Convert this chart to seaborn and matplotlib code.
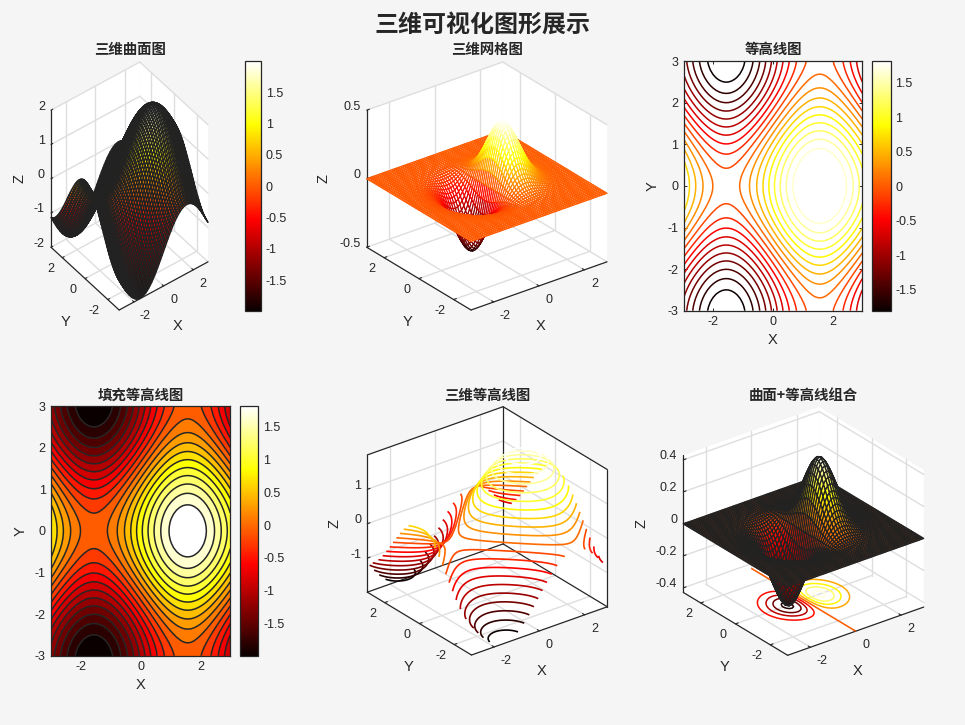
import numpy as np
import matplotlib
matplotlib.use("Agg")
import matplotlib.pyplot as plt
import seaborn as sns
from matplotlib.cm import ScalarMappable
from matplotlib.colors import Normalize
from matplotlib.ticker import FuncFormatter
from mpl_toolkits.mplot3d import proj3d
from mpl_toolkits.mplot3d.art3d import Poly3DCollection

# Sampling grid and the two analytic surfaces
axis_values = np.linspace(-3, 3, 61)
X, Y = np.meshgrid(axis_values, axis_values)
Z_waves = np.sin(X) + np.cos(Y)
Z_peaks = X * np.exp(-X ** 2 - Y ** 2)

# Contour levels
wave_levels = np.linspace(Z_waves.min(), Z_waves.max(), 22)[1:-1]
peak_levels = [-0.4, -0.3, -0.2, -0.1, 0, 0.1, 0.2, 0.3, 0.4]

# Tick positions
xy_ticks = [-2, 0, 2]
y2d_ticks = [-3, -2, -1, 0, 1, 2, 3]
cbar_ticks = [-1.5, -1, -0.5, 0, 0.5, 1, 1.5]
waves_zticks = [-2, -1, 0, 1, 2]
mesh_zticks = [-0.5, 0, 0.5]
contour3_zticks = [-1, 0, 1]
combo_zticks = [-0.4, -0.2, 0, 0.2, 0.4]

# Titles
main_title = "三维可视化图形展示"
panel_titles = ["三维曲面图", "三维网格图", "等高线图", "填充等高线图", "三维等高线图", "曲面+等高线组合"]

W, H = 965, 725
INK = "#262626"
GRID = "#dedede"
BG = "#f5f5f5"

sns.set_theme(style="white", rc={"axes.unicode_minus": False, "figure.facecolor": BG,
                                 "contour.negative_linestyle": "solid"})
plt.rcParams["font.family"] = ["Liberation Sans", "Noto Sans CJK SC", "DejaVu Sans"]
hot = sns.color_palette("hot", as_cmap=True)

TICK_PT = 9
LABEL_PT = 10.5
CJK = ["Noto Sans CJK SC", "DejaVu Sans"]
plain_number = FuncFormatter(lambda v, _: f"{v:g}")

fig = plt.figure(figsize=(W / 100, H / 100), dpi=100, facecolor=BG)


def fx(px):
    return px / W


def fy(py):
    return 1 - py / H


def fig_text(px, py, s, **kw):
    kw.setdefault("color", INK)
    kw.setdefault("ha", "center")
    kw.setdefault("va", "center")
    fig.text(fx(px), fy(py), s, **kw)


def add_title(px, py, s):
    fig_text(px, py, s, family=CJK, weight="bold", fontsize=10.4)


def add_colorbar(left, right, top, bottom, norm):
    cax = fig.add_axes([fx(left), fy(bottom), fx(right - left), (bottom - top) / H])
    cbar = fig.colorbar(ScalarMappable(norm=norm, cmap=hot), cax=cax,
                        ticks=cbar_ticks, format=plain_number)
    cbar.ax.tick_params(direction="in", length=2, width=0.7, color=INK,
                        labelcolor=INK, labelsize=TICK_PT, pad=3.5)
    cbar.outline.set_edgecolor(INK)
    cbar.outline.set_linewidth(0.9)
    return cbar


def axes_2d(left, right, top, bottom):
    ax = fig.add_axes([fx(left), fy(bottom), fx(right - left), (bottom - top) / H])
    ax.set_xlim(-3, 3)
    ax.set_ylim(-3, 3)
    ax.set_xticks(xy_ticks)
    ax.set_yticks(y2d_ticks)
    ax.xaxis.set_major_formatter(plain_number)
    ax.yaxis.set_major_formatter(plain_number)
    ax.tick_params(direction="in", length=2, width=0.7, color=INK, labelcolor=INK,
                   labelsize=TICK_PT, top=True, right=True, bottom=True, left=True, pad=4)
    for spine in ax.spines.values():
        spine.set_edgecolor(INK)
        spine.set_linewidth(0.9)
        spine.set_visible(True)
    fig_text((left + right) / 2, bottom + 29, "X", fontsize=LABEL_PT)
    fig_text(left - 31, (top + bottom) / 2, "Y", fontsize=LABEL_PT, rotation=90)
    return ax


def axes_3d(left, right, top, bottom, zlim, zticks, z_pad, x_dx=2, y_dx=-11, boxed=False):
    ax = fig.add_axes([0.1, 0.1, 0.5, 0.5], projection="3d", computed_zorder=False,
                      proj_type="ortho")
    ax.view_init(elev=30, azim=-127.5)
    ax.set_box_aspect((1, 1, 1), zoom=0.9)
    ax.set_xlim3d(-3, 3)
    ax.set_ylim3d(-3, 3)
    ax.set_zlim3d(*zlim)
    ax.set_axis_off()
    ax.patch.set_visible(False)
    # The plot box stretches to its slot rather than keeping a square frame
    ax.apply_aspect = lambda position=None: None

    z0, z1 = zlim
    M = ax.get_proj()

    def project(x, y, z):
        u, v, _ = proj3d.proj_transform(x, y, z, M)
        return u, v

    corners = [project(x, y, z) for x in (-3, 3) for y in (-3, 3) for z in zlim]
    frac = ax.transLimits.transform(corners)
    wpx = (right - left) / (frac[:, 0].max() - frac[:, 0].min())
    hpx = (bottom - top) / (frac[:, 1].max() - frac[:, 1].min())
    x0 = left - frac[:, 0].min() * wpx
    y0 = bottom + frac[:, 1].min() * hpx
    ax.set_position([fx(x0), 1 - y0 / H, wpx / W, hpx / H])

    # Back walls and floor
    walls = [
        [(3, -3, z0), (3, 3, z0), (3, 3, z1), (3, -3, z1)],
        [(-3, 3, z0), (3, 3, z0), (3, 3, z1), (-3, 3, z1)],
        [(-3, -3, z0), (3, -3, z0), (3, 3, z0), (-3, 3, z0)],
    ]
    ax.add_collection3d(Poly3DCollection(walls, facecolors="white", edgecolors="none",
                                         zorder=0))

    def seg(p, q, color=GRID, lw=1.0, zorder=1):
        ax.plot([p[0], q[0]], [p[1], q[1]], [p[2], q[2]], color=color, lw=lw, zorder=zorder)

    # Grid lines at every tick on the three back faces
    for t in xy_ticks:
        seg((t, -3, z0), (t, 3, z0))
        seg((t, 3, z0), (t, 3, z1))
        seg((-3, t, z0), (3, t, z0))
        seg((3, t, z0), (3, t, z1))
    for t in zticks:
        seg((-3, 3, t), (3, 3, t))
        seg((3, 3, t), (3, -3, t))

    if boxed:
        for p, q in [((3, 3, z0), (3, 3, z1)), ((-3, 3, z1), (3, 3, z1)),
                     ((3, 3, z1), (3, -3, z1)), ((-3, 3, z0), (3, 3, z0)),
                     ((3, 3, z0), (3, -3, z0)), ((3, -3, z0), (3, -3, z1))]:
            seg(p, q, color=INK, lw=0.9, zorder=1.5)

    # Axis rulers along the front edges
    seg((-3, -3, z0), (3, -3, z0), color=INK, lw=0.9, zorder=1.6)
    seg((-3, -3, z0), (-3, 3, z0), color=INK, lw=0.9, zorder=1.6)
    seg((-3, 3, z0), (-3, 3, z1), color=INK, lw=0.9, zorder=1.6)
    for t in xy_ticks:
        seg((t, -3, z0), (t, -2.88, z0), color=INK, lw=0.8, zorder=1.6)
        seg((-3, t, z0), (-2.88, t, z0), color=INK, lw=0.8, zorder=1.6)
    for t in zticks:
        seg((-3, 3, t), (-2.88, 3, t), color=INK, lw=0.8, zorder=1.6)

    def note(x, y, z, s, dx, dy, **kw):
        kw.setdefault("ha", "center")
        kw.setdefault("va", "center")
        kw.setdefault("fontsize", TICK_PT)
        ax.annotate(s, xy=project(x, y, z), xytext=(dx, dy), textcoords="offset pixels",
                    color=INK, annotation_clip=False, zorder=5, **kw)

    for t in xy_ticks:
        shift = 1.5 if t < 0 else 0
        note(t, -3, z0, f"{t:g}", 10 + shift, -14)
        note(-3, t, z0, f"{t:g}", -12 - shift, -11)
    for t in zticks:
        note(-3, 3, t, f"{t:g}", -6, 3.5, ha="right")
    note(0, -3, z0, "X", x_dx, -40, fontsize=LABEL_PT)
    note(-3, 0, z0, "Y", y_dx, -43.5, fontsize=LABEL_PT)
    note(-3, 3, (z0 + z1) / 2, "Z", -z_pad, 0, fontsize=LABEL_PT, rotation=90)
    return ax


def dark_surface(ax, Z, norm, lw=0.95):
    return ax.plot_surface(X, Y, Z, rstride=1, cstride=1, shade=False,
                           facecolors=hot(norm(Z)), edgecolor="#222222", linewidth=lw,
                           zorder=2)


# Surface of the wave function
waves_norm = Normalize(Z_waves.min(), Z_waves.max())
ax1 = axes_3d(51, 208, 62, 310, (-2, 2), waves_zticks, 32, x_dx=14, y_dx=-19.5)
dark_surface(ax1, Z_waves, waves_norm)
add_colorbar(244.5, 261, 61, 311, waves_norm)
add_title(130, 50, panel_titles[0])

# Mesh of the peaks function: white faces with coloured edges
peaks_norm = Normalize(Z_peaks.min(), Z_peaks.max())
ax2 = axes_3d(366.7, 607, 62, 310, (-0.5, 0.5), mesh_zticks, 43)
mesh = ax2.plot_surface(X, Y, Z_peaks, rstride=1, cstride=1, shade=False,
                        color="white", linewidth=0.85, zorder=2)
mesh.set_edgecolors(hot(peaks_norm(Z_peaks[:-1, :-1].ravel())))
add_title(487, 50, panel_titles[1])

# Contour lines
contour_norm = Normalize(wave_levels.min(), wave_levels.max())
ax3 = axes_2d(683.7, 862.3, 61.3, 310.7)
ax3.set_facecolor("white")
ax3.contour(X, Y, Z_waves, levels=wave_levels, cmap=hot, norm=contour_norm, linewidths=1.1)
add_colorbar(872.3, 890.7, 61.3, 310.7, contour_norm)
add_title(773, 50, panel_titles[2])

# Filled contours, each band flat-coloured by its lower bound
fill_norm = Normalize(Z_waves.min(), wave_levels.max())
fill_bounds = np.concatenate(([Z_waves.min()], wave_levels, [Z_waves.max() + 1e-6]))
fill_colors = [hot(fill_norm(v)) for v in fill_bounds[:-1]]
ax4 = axes_2d(51.3, 230.3, 406, 655.7)
ax4.contourf(X, Y, Z_waves, levels=fill_bounds, colors=fill_colors)
ax4.contour(X, Y, Z_waves, levels=wave_levels, colors=INK, linewidths=1.1)
add_colorbar(240.3, 258.3, 406, 656, fill_norm)
add_title(141, 396, panel_titles[3])

# Contour lines lifted to their own heights
ax5 = axes_3d(367.3, 607.3, 406.7, 655, (Z_waves.min(), Z_waves.max()), contour3_zticks, 33,
              boxed=True)
ax5.contour(X, Y, Z_waves, levels=wave_levels, cmap=hot, norm=contour_norm, linewidths=1.2,
            zorder=2)
add_title(487, 396, panel_titles[4])

# Surface with contour lines on the floor
ax6 = axes_3d(683.3, 923.7, 407, 655.3, (Z_peaks.min(), Z_peaks.max()), combo_zticks, 42)
ax6.contour(X, Y, Z_peaks, levels=peak_levels, cmap=hot, norm=peaks_norm, linewidths=1.1,
            zdir="z", offset=Z_peaks.min(), zorder=1.8)
dark_surface(ax6, Z_peaks, peaks_norm)
add_title(803, 396, panel_titles[5])

fig_text(482, 25, main_title, family=CJK, weight="bold", fontsize=17.3)

fig.savefig("out.png", dpi=100, facecolor=BG)
